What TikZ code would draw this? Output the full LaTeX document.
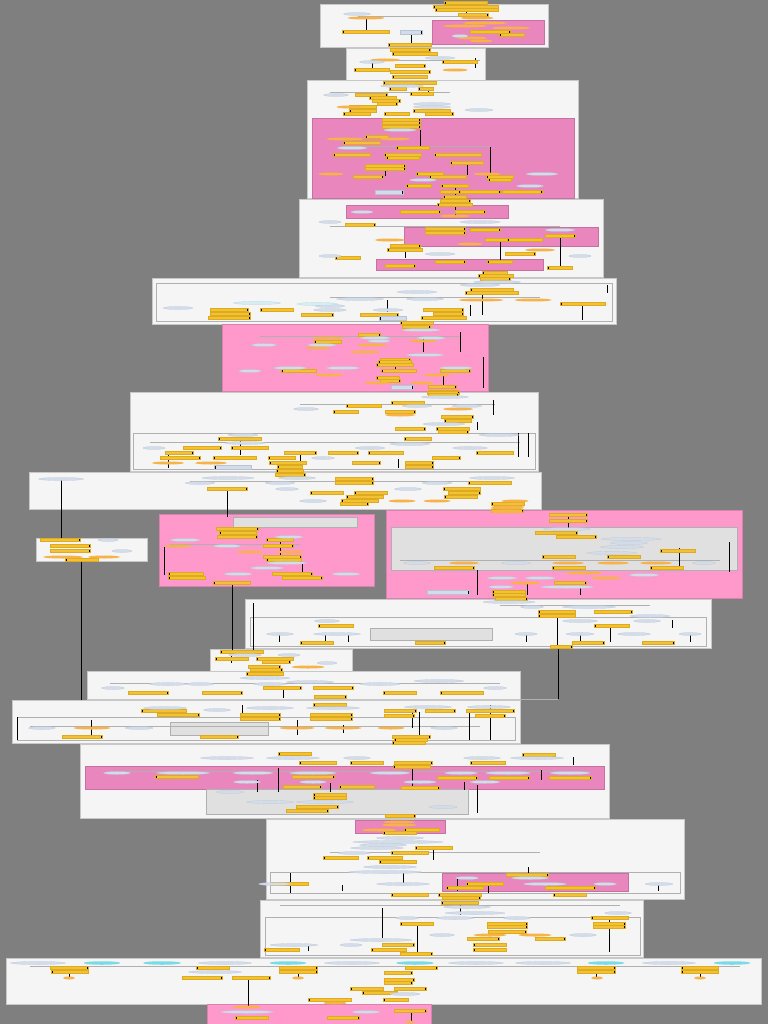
\documentclass[tikz,border=0pt]{standalone}
\usetikzlibrary{shapes.geometric}
\definecolor{bgc}{HTML}{7F7F7F}
\definecolor{panelc}{HTML}{F5F5F5}
\definecolor{paneledge}{HTML}{C8C8C8}
\definecolor{pinkA}{HTML}{E986BD}
\definecolor{pinkB}{HTML}{FF99CC}
\definecolor{grayboxc}{HTML}{E0E0E0}
\definecolor{grayedge}{HTML}{B0B0B0}
\definecolor{ybarc}{HTML}{F2C232}
\definecolor{yedge}{HTML}{DDAA22}
\definecolor{obarc}{HTML}{F7B24A}
\definecolor{ellc}{HTML}{D3DCE9}
\definecolor{elledge}{HTML}{B8C4D6}
\definecolor{cyanc}{HTML}{7ADBE6}
\definecolor{lcyan}{HTML}{D2F0F4}
\tikzset{
  panel/.style={fill=panelc, draw=paneledge, line width=0.4pt},
  pinkpanelA/.style={fill=pinkA, draw=pinkA!85!black, line width=0.3pt},
  pinkpanelB/.style={fill=pinkB, draw=pinkB!85!black, line width=0.3pt},
  graybox/.style={fill=grayboxc, draw=grayedge, line width=0.4pt},
  frame/.style={draw=grayedge, line width=0.35pt},
  endcaps/.style={path picture={\fill[black] (path picture bounding box.south west) rectangle ([xshift=1pt]path picture bounding box.north west);
                  \fill[black] ([xshift=-1pt]path picture bounding box.south east) rectangle (path picture bounding box.north east);}},
  yb/.style={rectangle, fill=ybarc, draw=yedge, line width=0.25pt, minimum height=3pt, inner sep=0pt, endcaps},
  ob/.style={ellipse, fill=obarc, draw=none, minimum height=3pt, inner sep=0pt},
  el/.style={ellipse, fill=ellc, draw=elledge, line width=0.2pt, minimum height=3pt, inner sep=0pt},
  elc/.style={ellipse, fill=lcyan, draw=elledge, line width=0.2pt, minimum height=3pt, inner sep=0pt},
  cy/.style={ellipse, fill=cyanc, draw=none, minimum height=3.5pt, inner sep=0pt},
  bx/.style={rectangle, fill=ellc, draw=elledge, line width=0.3pt, minimum height=4pt, inner sep=0pt, endcaps},
  vline/.style={draw=black, line width=0.9pt},
  thinline/.style={draw=grayedge, line width=0.4pt}
}
\newcommand\mkY[2]{\foreach \x/\y/\w [count=\i] in {#2} {\node[yb, minimum width=\w pt] (#1\i) at (\x,\y) {};}}
\newcommand\mkO[2]{\foreach \x/\y/\w [count=\i] in {#2} {\node[ob, minimum width=\w pt] (#1\i) at (\x,\y) {};}}
\newcommand\mkE[2]{\foreach \x/\y/\w [count=\i] in {#2} {\node[el, minimum width=\w pt] (#1\i) at (\x,\y) {};}}
\newcommand\mkEC[2]{\foreach \x/\y/\w [count=\i] in {#2} {\node[elc, minimum width=\w pt] (#1\i) at (\x,\y) {};}}
\newcommand\mkC[2]{\foreach \x/\y/\w [count=\i] in {#2} {\node[cy, minimum width=\w pt] (#1\i) at (\x,\y) {};}}
\newcommand\mkB[2]{\foreach \x/\y/\w [count=\i] in {#2} {\node[bx, minimum width=\w pt] (#1\i) at (\x,\y) {};}}
\newcommand\mkV[2]{\foreach \x/\ya/\yb [count=\i] in {#2} {\coordinate (#1s\i) at (\x,\ya); \coordinate (#1e\i) at (\x,\yb); \draw[vline] (#1s\i) -- (#1e\i);}}
\newcommand\mkH[2]{\foreach \y/\xa/\xb [count=\i] in {#2} {\coordinate (#1s\i) at (\xa,\y); \coordinate (#1e\i) at (\xb,\y); \draw[thinline] (#1s\i) -- (#1e\i);}}
\begin{document}
\begin{tikzpicture}[x=1pt,y=-1pt]
\useasboundingbox (0,0) rectangle (768,1024);
\fill[bgc] (0,0) rectangle (768,1024);
% ---------- panels ----------
\filldraw[panel] (320,4) rectangle (548,47);
\filldraw[pinkpanelA] (432,20) rectangle (544,44);
\filldraw[panel] (346,48) rectangle (485,80);
\filldraw[panel] (307,80) rectangle (578,198);
\filldraw[pinkpanelA] (312,118) rectangle (574,198);
\filldraw[panel] (299,199) rectangle (603,277);
\filldraw[pinkpanelA] (346,205) rectangle (508,218);
\filldraw[pinkpanelA] (404,227) rectangle (598,246);
\filldraw[pinkpanelA] (376,259) rectangle (543,270);
\filldraw[panel] (152,278) rectangle (616,324);
\draw[frame] (156,283) rectangle (612,321);
\filldraw[pinkpanelB] (222,324) rectangle (488,391);
\filldraw[panel] (130,392) rectangle (538,471);
\draw[frame] (133,433) rectangle (535,469);
\filldraw[panel] (29,472) rectangle (541,509);
\filldraw[panel] (36,538) rectangle (147,561);
\filldraw[pinkpanelB] (159,514) rectangle (374,586);
\filldraw[graybox] (233,517) rectangle (357,527);
\filldraw[pinkpanelB] (386,510) rectangle (742,598);
\filldraw[graybox] (391,527) rectangle (737,570);
\filldraw[panel] (245,599) rectangle (711,648);
\draw[frame] (250,617) rectangle (706,646);
\filldraw[graybox] (370,628) rectangle (492,640);
\filldraw[panel] (210,649) rectangle (352,671);
\filldraw[panel] (87,671) rectangle (520,699);
\filldraw[panel] (12,700) rectangle (520,743);
\draw[frame] (17,717) rectangle (515,740);
\filldraw[graybox] (170,722) rectangle (268,735);
\filldraw[panel] (80,744) rectangle (609,818);
\filldraw[pinkpanelA] (85,766) rectangle (604,789);
\filldraw[graybox] (206,789) rectangle (468,814);
\filldraw[panel] (266,819) rectangle (684,899);
\filldraw[pinkpanelA] (355,820) rectangle (445,833);
\filldraw[pinkpanelA] (442,873) rectangle (628,891);
\draw[frame] (270,872) rectangle (680,893);
\filldraw[panel] (260,900) rectangle (643,957);
\draw[frame] (265,917) rectangle (640,955);
\filldraw[panel] (6,958) rectangle (761,1004);
\filldraw[pinkpanelB] (207,1004) rectangle (431,1024);
% ---------- connectors ----------
\coordinate (hA) at (520,699); \coordinate (hB) at (558,699);
\draw[thinline] (hA) -- (hB);
\mkH{h}{16/358/470, 60/372/480, 92/330/450, 146/340/490, 226/330/560, 297/330/540, 336/260/460, 404/300/495, 442/150/520, 481/190/500, 544/170/300, 560/400/720, 605/500/650, 683/110/500, 726/30/480, 771/110/590, 852/330/540, 905/280/620, 966/30/740}
\mkV{v1}{366/19/31, 411/33/45, 466/4/18, 372/63/70, 475/58/68}
\mkV{v3}{428/88/95, 420/130/147, 490/147/180, 467/163/175, 455/185/198, 401/121/128, 385/166/176}
\mkV{v4}{455/206/216, 560/237/268, 405/247/258, 500/241/262}
\mkV{v5}{582/305/320, 607/285/293, 482/295/315, 470/305/316, 387/300/312, 229/311/318}
\mkV{v6}{423/338/352, 460/332/352, 483/357/388, 395/360/372, 443/376/387}
\mkV{v7}{493/400/415, 477/422/430, 518/433/457, 528/433/457, 168/452/468, 300/453/462, 398/459/468, 240/440/455}
\mkV{v8}{227/490/517, 61/480/538}
\mkV{v9}{81/561/700}
\mkV{v10}{164/547/575, 302/564/576, 232/585/650, 280/541/556}
\mkV{v11}{679/548/568, 729/542/572, 477/570/595, 527/584/595, 580/588/595, 568/516/528}
\mkV{v12}{557/617/647, 610/627/642, 672/620/628, 558/648/699, 253/603/650, 279/635/642, 325/635/642, 348/635/642, 526/635/642, 690/635/642, 580/635/642}
\mkV{v13}{231/652/663}
\mkV{v14}{283/689/698}
\mkV{v15}{17/717/740, 91/720/735, 242/705/715, 297/720/735, 343/725/733, 412/712/728, 419/712/735, 469/712/740, 490/705/740}
\mkV{v16}{257/780/792, 278/768/792, 330/783/792, 541/770/780, 573/757/765, 477/785/813, 464/782/790, 412/769/787}
\mkV{v17}{290/873/893, 342/885/891, 403/872/885, 433/849/860, 457/879/891, 488/885/893, 528/867/875, 658/885/891}
\mkV{v18}{382/908/938, 417/922/953, 609/918/952, 308/945/951, 460/904/915}
\mkV{v19}{248/979/1007, 69/969/978, 298/969/978, 596/969/978, 700/969/978}
\mkV{v20}{411/1012/1022}
% ---------- panel 1 ----------
\mkY{p1y}{466/3/43, 466/7/65, 467/10/63, 473/15/30, 490/32/40, 512/35/25, 366/32/47, 410/45/43}
\mkO{p1o}{477/18/33, 485/23/44, 465/26/44, 511/28/38, 472/38/30, 481/41/23, 366/18/37}
\mkE{p1e}{357/14/27, 460/36/16}
\mkB{p1b}{411/32/22}
% ---------- panel 2 ----------
\mkY{p2y}{410/50/40, 415/54/45, 372/70/35, 410/66/30, 410/72/40, 460/62/35, 410/77/35}
\mkO{p2o}{455/70/25, 385/60/30}
\mkE{p2e}{372/62/25, 440/58/30}
% ---------- panel 3 ----------
\mkY{p3y}{410/83/53, 398/89/17, 426/89/15, 371/95/32, 422/94/23, 383/98/27, 386/101/28, 387/104/20, 363/107/27, 363/111/27, 432/111/37, 357/114/27, 397/114/25, 439/114/28, 401/120/38, 401/123/38, 401/127/38, 377/137/23, 362/143/37, 413/148/33, 352/155/37, 403/155/37, 458/155/47, 403/158/33, 467/163/33, 385/166/40, 385/169/40, 430/174/27, 368/177/30, 448/177/37, 500/177/27, 500/180/23, 419/186/25, 455/186/27, 450/192/20, 480/192/40, 522/192/40, 455/197/23}
\mkO{p3o}{349/107/25, 345/139/37, 395/139/30, 331/174/25, 487/174/27}
\mkE{p3e}{402/86/43, 336/95/25, 432/104/37, 432/107/37, 479/110/28, 400/130/33, 352/148/30, 542/174/32, 423/180/27, 530/186/27}
\mkB{p3b}{389/192/28}
% ---------- panel 4 ----------
\mkY{p4y}{455/201/30, 455/205/35, 420/212/40, 470/212/30, 360/225/30, 445/229/40, 445/233/40, 500/240/30, 525/240/35, 560/236/30, 485/230/30, 348/258/25, 405/246/30, 405/250/35, 450/262/30, 500/262/25, 520/254/30, 560/268/25, 495/273/25, 400/266/30}
\mkO{p4o}{455/216/30, 390/240/30, 470/244/25, 540/250/30}
\mkE{p4e}{362/212/22, 330/222/22, 330/256/22, 580/256/22, 560/230/30, 480/222/40, 440/254/30}
% ---------- panel 5 ----------
\mkY{p5y}{496/276/35, 495/279/30, 492/290/43, 492/293/53, 583/304/45, 229/310/38, 277/310/33, 443/310/40, 230/314/40, 317/315/32, 379/315/38, 448/314/30, 229/318/42, 444/318/45}
\mkO{p5o}{481/300/45, 533/300/37}
\mkE{p5e}{497/282/47, 480/285/40, 417/292/40, 360/299/47, 425/299/37, 178/308/30, 330/310/33, 388/310/30, 330/306/30}
\mkEC{p5c}{257/303/47, 317/304/40}
\mkB{p5b}{393/318/27}
% ---------- panel 6 ----------
\mkY{p6y}{417/323/33, 416/327/28, 369/335/22, 328/342/27, 395/360/30, 395/362/33, 395/365/37, 299/371/35, 399/371/35, 455/371/30, 388/378/23, 390/381/20, 442/387/28, 443/392/30}
\mkO{p6o}{328/338/33, 423/341/27, 372/345/30, 318/348/25, 365/352/30, 329/375/28, 437/375/27, 377/383/25, 422/383/23}
\mkE{p6e}{421/330/38, 375/338/30, 431/338/28, 379/341/22, 264/345/25, 322/345/28, 425/355/37, 290/368/33, 343/368/33, 456/368/33, 250/371/22}
\mkB{p6b}{402/387/22}
% ---------- panel 7 ----------
\mkY{p7y}{443/393/32, 443/395/30, 408/403/33, 364/406/35, 346/412/25, 400/412/30, 457/417/32, 458/421/27, 410/429/30, 453/429/33, 453/432/30, 240/439/43, 418/439/27, 202/448/38, 250/448/37, 179/453/28, 300/453/32, 343/453/30, 386/453/35, 495/453/37, 180/458/40, 235/458/43, 282/458/27, 446/458/28, 288/463/37, 366/463/28, 419/463/28, 290/467/25, 419/467/28, 290/471/27}
\mkO{p7o}{458/409/30, 168/463/32, 211/463/32, 400/415/30}
\mkE{p7e}{445/397/47, 417/406/30, 467/406/30, 306/409/25, 444/424/42, 243/435/30, 499/435/40, 154/448/22, 323/458/23, 410/444/40, 370/448/30, 470/448/35, 245/443/40}
\mkB{p7b}{233/467/37}
% ---------- panel 8 ----------
\mkY{p8y}{290/475/30, 354/479/38, 354/483/38, 490/483/43, 227/489/40, 462/489/37, 327/493/33, 371/493/33, 464/493/32, 365/497/37, 461/497/33, 360/501/37, 354/504/28, 508/504/33, 507/511/32}
\mkO{p8o}{402/501/27, 437/501/27, 515/501/27, 508/507/33}
\mkE{p8e}{228/478/52, 297/478/37, 492/478/45, 200/483/30, 437/483/30, 287/489/23, 408/489/27, 313/501/27, 61/479/45, 280/483/30}
% ---------- panel 9 ----------
\mkY{p9y}{60/540/40, 70/546/40, 70/551/40, 82/560/33}
\mkO{p9o}{63/557/40, 104/557/32}
\mkE{p9e}{108/540/20, 122/551/20}
% ---------- panel 10 ----------
\mkY{p10y}{237/529/42, 238/533/37, 237/537/40, 280/540/27, 278/546/30, 282/557/38, 284/560/35, 186/574/35, 292/574/40, 187/578/37, 302/578/40, 232/583/37}
\mkO{p10o}{178/546/27, 250/552/27, 290/552/27}
\mkE{p10e}{289/537/28, 185/540/30, 227/546/27, 287/563/40, 267/568/33, 238/574/28, 346/574/28}
% ---------- panel 11 ----------
\mkY{p11y}{568/515/38, 568/521/38, 556/533/42, 576/537/40, 678/551/35, 559/557/33, 624/557/33, 454/568/40, 569/568/33, 667/568/33, 570/583/32, 509/592/33, 509/595/33}
\mkO{p11o}{507/508/33, 507/512/33, 464/563/30, 568/563/32, 613/563/32, 656/563/32, 584/573/37, 606/578/30, 525/583/30}
\mkE{p11e}{567/529/47, 631/539/60, 629/543/37, 622/547/43, 612/553/50, 417/563/27, 516/563/30, 704/563/23, 644/575/30, 502/578/30, 501/587/25, 567/587/53, 540/578/30}
\mkB{p11b}{448/592/42}
% ---------- panel 12 ----------
\mkY{p12y}{511/599/32, 557/612/37, 613/612/38, 557/616/37, 612/626/35, 430/643/30, 588/643/32, 658/643/32, 561/647/22, 336/626/35, 317/643/33}
\mkE{p12e}{509/602/52, 532/607/23, 589/607/53, 580/621/35, 647/621/27, 526/634/22, 580/634/28, 634/634/33, 690/634/22, 327/621/25, 280/634/27, 337/634/47, 650/616/40}
% ---------- panel 13 ----------
\mkY{p13y}{242/652/43, 232/659/33, 275/659/37, 276/662/28, 264/667/32, 266/670/32}
\mkO{p13o}{308/667/33}
\mkE{p13e}{289/655/22, 327/663/20, 245/655/33}
% ---------- panel 14 ----------
\mkY{p14y}{265/674/37, 282/688/38, 333/688/40, 148/693/40, 222/693/40, 330/697/32, 400/693/33, 462/693/43}
\mkE{p14e}{265/678/50, 310/682/47, 168/684/37, 200/684/27, 270/684/33, 113/688/23, 439/681/50, 495/688/23, 380/684/40}
% ---------- panel 15 ----------
\mkY{p15y}{330/705/33, 164/711/45, 178/715/42, 260/715/40, 331/715/42, 260/719/40, 331/719/42, 82/737/40, 219/737/38, 400/711/32, 440/711/30, 490/711/48, 399/716/30, 490/716/30, 411/737/38, 411/740/33}
\mkO{p15o}{92/728/37, 297/728/35, 343/728/37, 391/728/27}
\mkE{p15e}{165/708/43, 217/710/27, 270/708/47, 333/708/53, 42/728/27, 139/728/28, 428/707/47, 489/707/43, 444/728/27}
% ---------- panel 16 ----------
\mkY{p16y}{409/743/33, 295/754/33, 318/763/37, 367/763/33, 177/777/43, 313/777/42, 302/787/38, 357/787/35, 330/795/33, 330/798/33, 317/807/42, 307/811/42, 539/755/33, 413/763/38, 488/763/35, 412/767/37, 457/778/40, 509/778/40, 570/778/42, 420/788/38}
\mkE{p16e}{227/758/53, 293/758/53, 357/758/27, 117/773/27, 183/773/53, 253/773/40, 313/773/47, 247/782/27, 313/782/27, 230/792/27, 270/802/47, 325/802/57, 537/758/53, 482/758/37, 461/773/33, 508/773/45, 570/773/40, 420/782/33, 485/782/30, 443/807/28, 390/773/40}
% ---------- panel 17 ----------
\mkY{p17y}{400/816/30, 422/830/35, 400/833/33, 434/848/37, 410/853/37, 341/858/35, 385/858/35, 398/862/37, 527/875/42, 290/884/37, 485/884/37, 465/888/37, 570/888/50, 410/895/37, 460/895/43, 570/895/33}
\mkO{p17o}{399/822/32, 399/825/35, 379/830/35}
\mkE{p17e}{400/838/47, 398/842/90, 383/845/47, 377/848/53, 354/853/32, 390/867/53, 385/872/73, 467/878/23, 530/878/37, 275/884/33, 403/884/53, 545/884/43, 605/884/23, 659/884/28}
% ---------- panel 18 ----------
\mkY{p18y}{461/898/38, 460/903/37, 610/918/37, 417/924/33, 507/924/40, 609/924/32, 507/927/40, 609/927/32, 507/932/38, 483/939/32, 550/939/30, 398/945/32, 490/945/33, 282/950/35, 389/950/35, 490/950/33, 416/954/32}
\mkO{p18o}{490/935/33, 535/935/33}
\mkE{p18e}{467/907/47, 475/913/60, 618/913/27, 407/918/23, 455/918/37, 517/918/27, 442/935/25, 583/935/27, 381/940/62, 294/945/48, 351/945/22}
% ---------- panel 19 ----------
\mkY{p19y}{69/968/38, 213/968/33, 298/968/38, 70/972/37, 298/972/38, 202/978/40, 251/978/38, 421/968/32, 596/968/38, 700/968/37, 596/972/38, 700/972/37, 398/973/28, 399/980/30, 398/983/28, 410/989/32, 367/989/33, 330/1000/43, 396/1000/25, 380/993/35}
\mkO{p19o}{69/978/12, 298/978/12, 597/978/12, 700/978/12, 335/1003/23}
\mkE{p19e}{38/963/55, 225/963/53, 352/963/55, 476/963/55, 543/963/55, 669/963/53, 215/972/53, 405/994/30}
\mkC{p19c}{102/963/37, 162/963/38, 288/963/37, 415/963/38, 606/963/37, 732/963/37}
% ---------- panel 20 ----------
\mkY{p20y}{252/1018/33, 343/1018/32, 410/1011/32}
\mkO{p20o}{247/1007/27, 410/1022/10}
\mkE{p20e}{247/1012/53, 366/1012/28}
\end{tikzpicture}
\end{document}
